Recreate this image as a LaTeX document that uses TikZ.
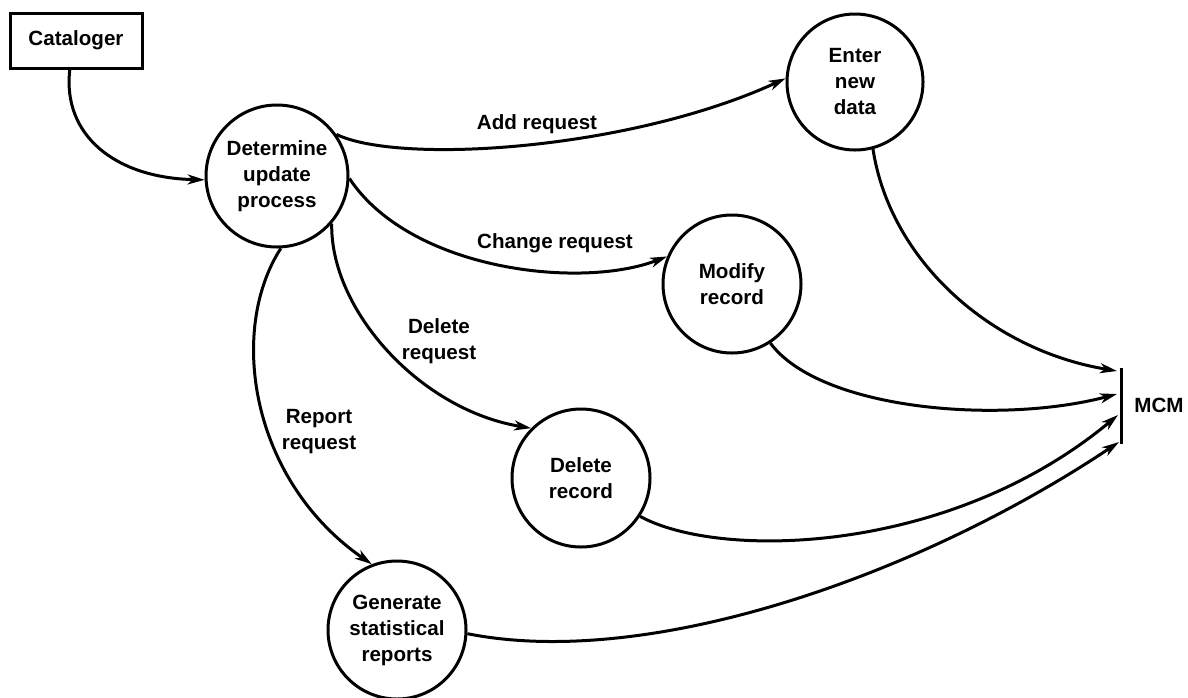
\documentclass[tikz,border=0pt]{standalone}
\usepackage{fontspec}
\setmainfont{Liberation Sans}
\usetikzlibrary{arrows.meta}
\begin{document}
\begin{tikzpicture}[x=0.5pt,y=-0.5pt,
  every node/.style={font=\fontsize{10.3}{13}\selectfont\bfseries},
  proc/.style={draw, circle, line width=1.5pt, align=center, inner sep=0pt},
  ext/.style={draw, rectangle, line width=1.5pt, inner sep=0pt, minimum width=66pt, minimum height=27.5pt},
  lbl/.style={align=center, inner sep=1pt},
  flow/.style={line width=1.5pt, -{Stealth[length=8.5pt,width=5pt,inset=2.5pt]}},
  link/.style={line width=1.5pt}]
\useasboundingbox (0,0) rectangle (1188,697);

% nodes
\node[ext] (cat) at (76,40.5) {Cataloger};
\node[proc, minimum size=71pt] (det) at (277,176) {Determine\\update\\process};
\node[proc, minimum size=68pt] (enter) at (855,82) {Enter\\new\\data};
\node[proc, minimum size=69pt] (mod) at (732,284) {Modify\\record};
\node[proc, minimum size=69pt] (del) at (581,478) {Delete\\record};
\node[proc, minimum size=69pt] (gen) at (397,630) {Generate\\statistical\\reports};

% MCM data store
\coordinate (m1) at (1121,368);
\coordinate (m2) at (1121,444);
\draw[link] (m1) -- (m2);
\node (mcm) at (1159,405) {MCM};
\coordinate (t1) at (1117,371);
\coordinate (t2) at (1117,394);
\coordinate (t3) at (1118,415);
\coordinate (t4) at (1119,442);

% flows
\draw[flow] (cat.258) .. controls (62,135) and (115,178) .. (det.183);
\draw[flow] (det.35) .. controls (400,165) and (630,150) .. (enter.177);
\draw[flow] (det.358) .. controls (410,270) and (580,290) .. (mod.157);
\draw[flow] (det.319) .. controls (330,310) and (420,410) .. (del.135);
\draw[flow] (det.273) .. controls (228,330) and (250,480) .. (gen.111);

\draw[flow] (enter.285) .. controls (890,260) and (990,350) .. (t1);
\draw[flow] (mod.303) .. controls (820,410) and (1000,425) .. (t2);
\draw[flow] (del.327) .. controls (720,560) and (950,555) .. (t3);
\draw[flow] (gen.357) .. controls (650,670) and (920,575) .. (t4);

% labels
\node[lbl] (addl) at (537,124) {Add request};
\node[lbl] (chgl) at (555,243) {Change request};
\node[lbl] (dell) at (439,341) {Delete\\request};
\node[lbl] (repl) at (319,432) {Report\\request};
\end{tikzpicture}
\end{document}
